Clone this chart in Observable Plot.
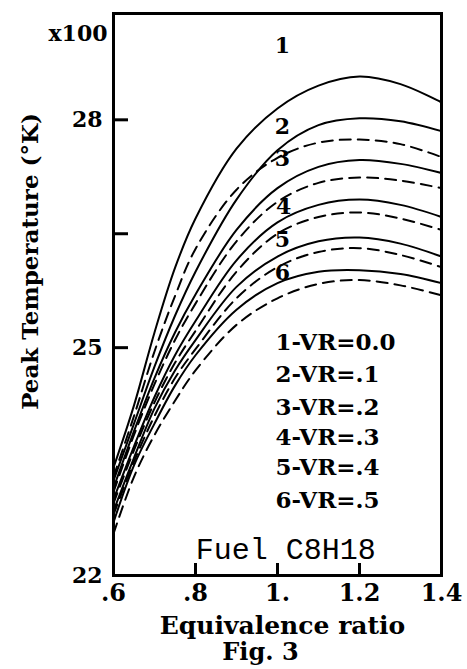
<!DOCTYPE html>
<html>
<head>
<meta charset="utf-8">
<script src="https://cdn.jsdelivr.net/npm/d3@7"></script>
<script src="https://cdn.jsdelivr.net/npm/@observablehq/plot@0.6"></script>
<style>
  html, body { margin: 0; padding: 0; background: #fff; }
  #chart { width: 467px; height: 669px; }
</style>
</head>
<body>
<div id="chart"></div>
<script>
// Equivalence ratio sample points
const phi = [0.6, 0.65, 0.7, 0.75, 0.8, 0.9, 1.0, 1.1, 1.2, 1.3, 1.4];

// Peak temperature (x100 K) — solid curves, VR = 0.0 ... 0.5
const solid1 = [23.42, 24.24, 25.2, 26.05, 26.7, 27.62, 28.15, 28.45, 28.57, 28.47, 28.23];
const solid2 = [23.25, 24.0, 24.75, 25.42, 26.0, 26.95, 27.6, 27.93, 28.02, 27.98, 27.85];
const solid3 = [23.15, 23.9, 24.6, 25.2, 25.7, 26.55, 27.1, 27.38, 27.47, 27.42, 27.30];
const solid4 = [23.0, 23.7, 24.35, 24.9, 25.35, 26.15, 26.65, 26.88, 26.95, 26.88, 26.72];
const solid5 = [22.85, 23.55, 24.2, 24.7, 25.1, 25.8, 26.2, 26.4, 26.45, 26.37, 26.20];
const solid6 = [22.7, 23.45, 24.0, 24.5, 24.9, 25.5, 25.85, 26.0, 26.02, 25.97, 25.85];

// Dashed companion curves (VR = .1 ... .5)
const dashed2 = [23.3, 24.1, 24.95, 25.68, 26.3, 27.08, 27.5, 27.7, 27.74, 27.68, 27.51];
const dashed3 = [23.1, 23.85, 24.52, 25.1, 25.58, 26.4, 26.92, 27.17, 27.24, 27.2, 27.10];
const dashed4 = [22.95, 23.65, 24.28, 24.8, 25.22, 26.0, 26.5, 26.72, 26.78, 26.7, 26.55];
const dashed5 = [22.8, 23.5, 24.1, 24.6, 24.98, 25.65, 26.06, 26.26, 26.31, 26.22, 26.06];
const dashed6 = [22.55, 23.3, 23.85, 24.3, 24.7, 25.3, 25.65, 25.84, 25.89, 25.82, 25.69];

// Curve number labels (placed on the curves)
const curveNums = ["1", "2", "3", "4", "5", "6"];
const curveNumPhi = [1.012, 1.012, 1.012, 1.015, 1.012, 1.012];
const curveNumT = [28.97, 27.9, 27.48, 26.85, 26.42, 25.98];

// Legend
const legendLabels = ["1-VR=0.0", "2-VR=.1", "3-VR=.2", "4-VR=.3", "5-VR=.4", "6-VR=.5"];
const legendPhi = 0.995;
const legendT = [25.06, 24.64, 24.21, 23.82, 23.42, 22.99];

// Axes
const xTicks = [0.6, 0.8, 1.0, 1.2, 1.4];
const xTickLabels = [".6", ".8", "1.", "1.2", "1.4"];
const xInnerTicks = [0.8, 1.0, 1.2];
const yTickLabels = [22, 25, 28];
const yInnerTicks = [25, 26.5, 28];

const solidSeries = [solid1, solid2, solid3, solid4, solid5, solid6];
const dashedSeries = [dashed2, dashed3, dashed4, dashed5, dashed6];
const solidRows = solidSeries.flatMap((s, i) => s.map((T, j) => ({id: i + 1, phi: phi[j], T})));
const dashedRows = dashedSeries.flatMap((s, i) => s.map((T, j) => ({id: i + 2, phi: phi[j], T})));

const serif = "'DejaVu Serif', serif";

const chart = Plot.plot({
  width: 467,
  height: 669,
  marginLeft: 113,
  marginRight: 26,
  marginTop: 13,
  marginBottom: 94,
  style: {background: "#fff", color: "#000", fontFamily: serif, fontWeight: "bold", fontSize: "22px"},
  x: {domain: [0.6, 1.4]},
  y: {domain: [22, 29.4]},
  marks: [
    Plot.line(solidRows, {x: "phi", y: "T", z: "id", curve: "catmull-rom", stroke: "#000", strokeWidth: 2, clip: true}),
    Plot.line(dashedRows, {x: "phi", y: "T", z: "id", curve: "catmull-rom", stroke: "#000", strokeWidth: 2, strokeDasharray: "11,7", clip: true}),
    Plot.frame({stroke: "#000", strokeWidth: 3}),
    Plot.ruleX(xInnerTicks, {x: d => d, stroke: "#000", strokeWidth: 3, insetTop: 550}),
    Plot.ruleY(yInnerTicks, {y: d => d, stroke: "#000", strokeWidth: 3, insetRight: 313}),
    Plot.axisX({ticks: xTicks, tickSize: 0, tickPadding: 8, tickFormat: d => xTickLabels[xTicks.indexOf(d)], fontSize: 24, fontFamily: serif, fontWeight: "bold", label: null}),
    Plot.axisY({ticks: yTickLabels, tickSize: 0, tickPadding: 11, tickFormat: d => String(d), fontSize: 22, fontFamily: serif, fontWeight: "bold", label: null}),
    Plot.text(["x100"], {frameAnchor: "top-left", dx: -6, dy: 20, textAnchor: "end", lineAnchor: "middle", fontSize: 22}),
    Plot.text(["Peak Temperature (°K)"], {frameAnchor: "left", dx: -83, dy: -33, rotate: -90, textAnchor: "middle", lineAnchor: "middle", fontSize: 23, letterSpacing: "2.2px"}),
    Plot.text(["Equivalence ratio"], {frameAnchor: "bottom", dx: 5, dy: 50, lineAnchor: "middle", fontSize: 25, letterSpacing: "1.8px"}),
    Plot.text(["Fig. 3"], {frameAnchor: "bottom", dx: -17, dy: 77, lineAnchor: "middle", fontSize: 24, letterSpacing: "1px"}),
    Plot.text(curveNums, {x: (d, i) => curveNumPhi[i], y: (d, i) => curveNumT[i], fontSize: 22}),
    Plot.text(legendLabels, {x: legendPhi, y: (d, i) => legendT[i], textAnchor: "start", fontSize: 23}),
    Plot.text(["Fuel C8H18"], {x: 1.02, y: 22.34, fontFamily: "'Liberation Mono', monospace", fontWeight: "normal", fontSize: 30})
  ]
});
document.getElementById("chart").appendChild(chart);
</script>
</body>
</html>
